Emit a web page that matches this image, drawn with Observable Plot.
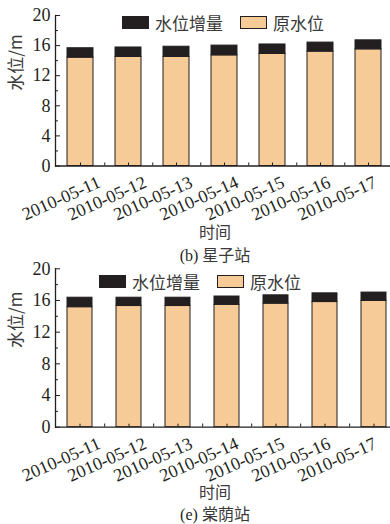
<!DOCTYPE html>
<html><head><meta charset="utf-8">
<script src="https://cdn.jsdelivr.net/npm/d3@7"></script>
<script src="https://cdn.jsdelivr.net/npm/@observablehq/plot@0.6"></script>
<style>
body{margin:0;background:#fff;}
#root{position:relative;width:390px;height:524px;overflow:hidden;font-family:"Liberation Serif","Noto Sans CJK SC",serif;}
.cjk{font-family:"Noto Sans CJK SC",sans-serif;color:#3a3a3a;}
.leg{position:absolute;display:flex;align-items:center;font-family:"Noto Sans CJK SC",sans-serif;font-size:17px;line-height:1;color:#3a3a3a;white-space:nowrap;}
.sw{display:inline-block;width:25px;height:11px;border:1px solid #231f20;margin-right:6px;}
.cap{position:absolute;width:390px;left:0;text-align:center;white-space:nowrap;line-height:1;}
</style></head>
<body><div id="root"></div>
<script>
const dates = ["2010-05-11","2010-05-12","2010-05-13","2010-05-14","2010-05-15","2010-05-16","2010-05-17"];
const seriesNames = ["原水位","水位增量"];
const seriesColors = ["#f7cb98","#231f20"];
const xingziOriginal = [14.4,14.5,14.5,14.7,14.9,15.2,15.5];
const xingziIncrease = [1.25,1.25,1.35,1.3,1.25,1.2,1.2];
const tangyinOriginal = [15.15,15.3,15.3,15.45,15.6,15.8,15.95];
const tangyinIncrease = [1.2,1.05,1.05,1.05,1.05,1.1,1.05];
const yTicks = [0,4,8,12,16,20];
const yMinor = [2,6,10,14,18];

const root = document.getElementById("root");

function place(svg, top) {
  svg.style.position = "absolute";
  svg.style.left = "0px";
  svg.style.top = top + "px";
  root.appendChild(svg);
}

function makeChart(orig, inc, opts) {
  const data = [];
  dates.forEach((d,i)=>{
    data.push({date:d, series:seriesNames[0], value:orig[i]});
    data.push({date:d, series:seriesNames[1], value:inc[i]});
  });
  const common = {
    width: 390,
    height: opts.height,
    marginTop: opts.marginTop,
    marginBottom: opts.marginBottom,
    marginLeft: 55,
    marginRight: 0,
    style: {fontFamily: '"Liberation Serif", serif', fontSize: "17px", color: "#231f20", background: "transparent", overflow: "visible"}
  };
  const plot = Plot.plot({
    ...common,
    x: {domain: dates, range: opts.xRange, paddingInner: opts.pi, paddingOuter: opts.po, axis: null, label: null},
    y: {domain: [0,20], axis: null, label: null},
    color: {domain: seriesNames, range: seriesColors},
    marks: [
      Plot.barY(data, {x: "date", y: "value", fill: "series", stroke: "#231f20", strokeWidth: 1}),
      Plot.axisY(yTicks, {tickSize: 0, tickPadding: 5, fontSize: 18, tickFormat: d=>d, label: null}),
      Plot.axisY(yTicks, {tickSize: -5, text: null, label: null}),
      Plot.axisY(yMinor, {tickSize: -3, text: null, label: null}),
      Plot.axisX(dates, {tickSize: -3, text: null, label: null}),
      Plot.ruleX(dates.slice(0,-1), {x: d=>d, y1: 0, y2: 0.4, dx: opts.step/2, stroke: "#231f20"}),
      Plot.ruleY([0], {stroke: "#231f20", strokeWidth: 1.3}),
      Plot.frame({anchor: "left", stroke: "#231f20", strokeWidth: 1.3}),
      Plot.text(["水位/m"], {frameAnchor: "left", rotate: -90, dx: -39, fontSize: 17, fill: "#3a3a3a", fontFamily: '"Noto Sans CJK SC", "Liberation Serif", sans-serif'})
    ]
  });
  place(plot, opts.top);

  // tick labels: overlay with its own point scale for the label anchors
  const labels = Plot.plot({
    ...common,
    x: {type: "point", domain: dates, range: opts.labelRange, padding: 0, axis: null, label: null},
    y: {domain: [0,20], axis: null, label: null},
    marks: [
      Plot.text(dates, {x: d=>d, frameAnchor: "bottom", rotate: -24, textAnchor: "end", lineAnchor: "top", dy: 9, fontSize: 18, fill: "#231f20"})
    ]
  });
  place(labels, opts.top);

  function legendItem(name, color, left, top) {
    const div = document.createElement("div");
    div.className = "leg";
    div.style.left = left + "px";
    div.style.top = top + "px";
    const sw = document.createElement("span");
    sw.className = "sw";
    sw.style.background = color;
    div.appendChild(sw);
    div.appendChild(document.createTextNode(name));
    root.appendChild(div);
  }
  legendItem(seriesNames[1], seriesColors[1], opts.legLeft, opts.legTop);
  legendItem(seriesNames[0], seriesColors[0], opts.legLeft2, opts.legTop);

  const t = document.createElement("div");
  t.className = "cap cjk";
  t.style.top = opts.xTitleTop + "px";
  t.style.left = "20px";
  t.style.fontSize = "16px";
  t.textContent = "时间";
  root.appendChild(t);

  const c = document.createElement("div");
  c.className = "cap";
  c.style.top = opts.capTop + "px";
  c.style.left = "20px";
  c.style.fontSize = "16px";
  c.innerHTML = '<span style="font-family:\'Liberation Serif\',serif;color:#231f20">' + opts.capLetter + '</span> <span class="cjk">' + opts.capName + '</span>';
  root.appendChild(c);
}

makeChart(xingziOriginal, xingziIncrease, {
  top: 0, height: 220, marginTop: 15, marginBottom: 54.5,
  xRange: [55, 392], pi: 0.464, po: 0.206, step: 48.5, labelRange: [96, 372],
  legLeft: 122, legLeft2: 240, legTop: 14,
  xTitleTop: 223, capTop: 246, capLetter: "(b)", capName: "星子站"
});
makeChart(tangyinOriginal, tangyinIncrease, {
  top: 253, height: 228, marginTop: 15.3, marginBottom: 54.3,
  xRange: [55, 398], pi: 0.493, po: 0.223, step: 49.33, labelRange: [96, 372],
  legLeft: 99, legLeft2: 217, legTop: 273,
  xTitleTop: 483, capTop: 504.5, capLetter: "(e)", capName: "棠荫站"
});
</script></body></html>
